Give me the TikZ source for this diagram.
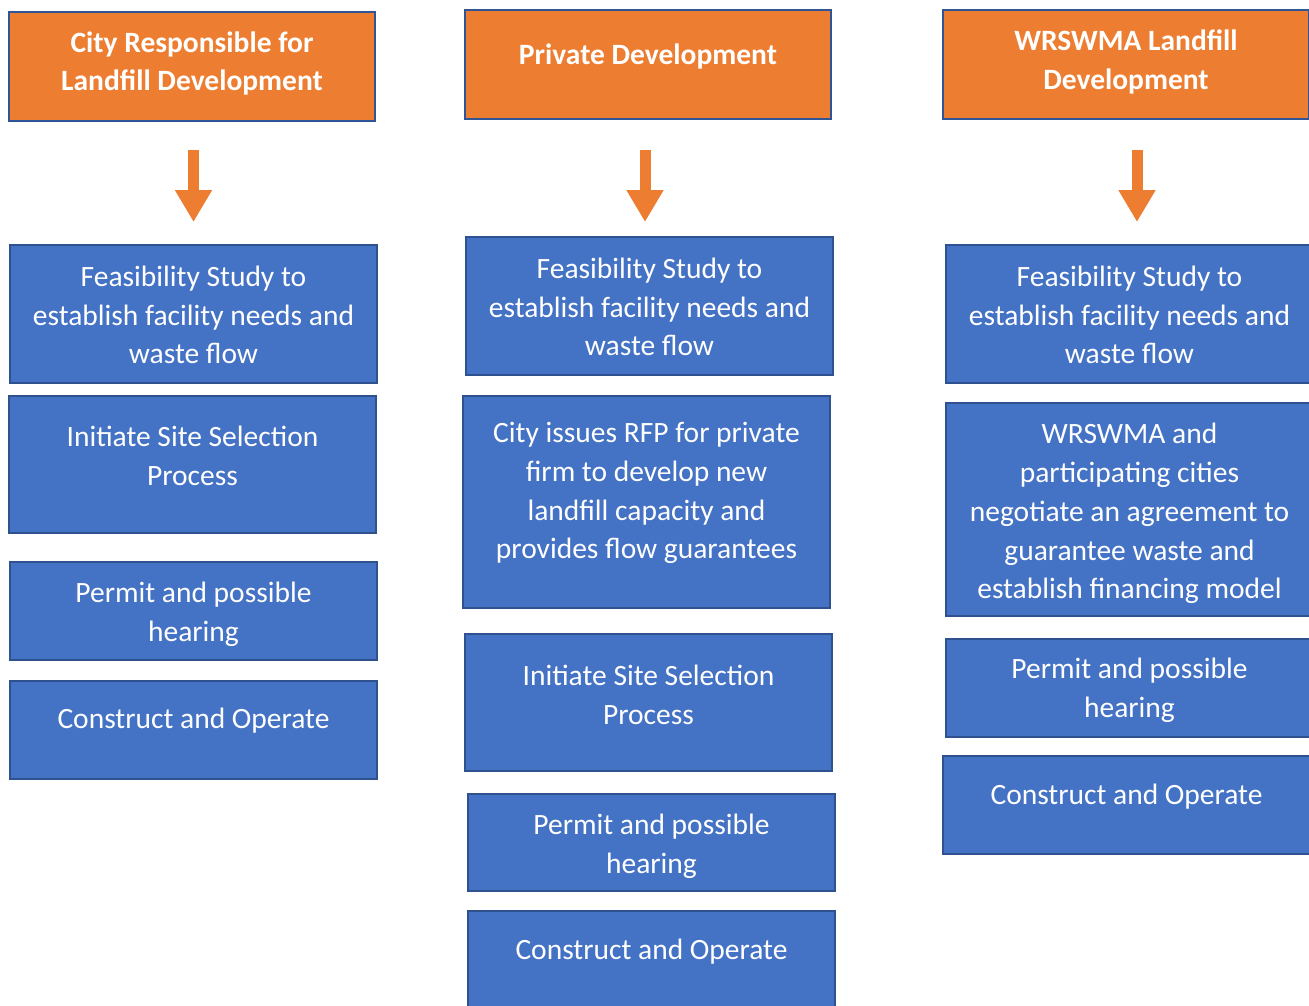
\documentclass[tikz,border=0pt]{standalone}
\usepackage{fontspec}
\setmainfont{Carlito}
\usetikzlibrary{arrows.meta,calc}
\definecolor{hdrfill}{HTML}{ED7D31}
\definecolor{hdrline}{HTML}{2F5597}
\definecolor{stepfill}{HTML}{4472C4}
\definecolor{stepline}{HTML}{2F528F}
\tikzset{
  panel/.style={draw=stepline, fill=stepfill, line width=2.5pt, minimum width=367pt,
    anchor=north west, inner sep=0pt, outer sep=0pt},
  header/.style={panel, draw=hdrline, fill=hdrfill, minimum width=366pt, minimum height=109pt},
  steptext/.style={text=white, align=center, inner sep=0pt,
    font=\fontsize{29.5}{38.8}\selectfont},
  headtext/.style={steptext, font=\fontsize{29.5}{38.8}\selectfont\bfseries},
  flow/.style={draw=hdrfill, line width=11pt, -{Triangle[width=35pt,length=32pt]}},
}
\begin{document}
\begin{tikzpicture}[x=1pt, y=-1pt]
\useasboundingbox (0,0) rectangle (1309,1005);
\clip (0,0) rectangle (1309,1005);

% ---- left column: city responsible
\node[header] (lh) at (9,12) {};
\node[headtext] (lht) at (lh.center |- 0,63.5) {City Responsible for\\Landfill Development};
\coordinate (la0) at (193.5,150);
\coordinate (la1) at (193.5,222);
\draw[flow] (la0) -- (la1);
\node[panel, minimum height=138pt] (l1) at (10,245) {};
\node[steptext] (l1t) at (l1.center |- 0,315) {Feasibility Study to\\establish facility needs and\\waste flow};
\node[panel, minimum height=137pt] (l2) at (9,396) {};
\node[steptext] (l2t) at (l2.center |- 0,455.5) {Initiate Site Selection\\Process};
\node[panel, minimum height=98pt] (l3) at (10,562) {};
\node[steptext] (l3t) at (l3.center |- 0,614) {Permit and possible\\hearing};
\node[panel, minimum height=98pt] (l4) at (10,681) {};
\node[steptext] (l4t) at (l4.center |- 0,721) {Construct and Operate};

% ---- middle column: private development
\node[header] (mh) at (465,10) {};
\node[headtext] (mht) at (mh.center |- 0,56) {Private Development};
\coordinate (ma0) at (645,150);
\coordinate (ma1) at (645,222);
\draw[flow] (ma0) -- (ma1);
\node[panel, minimum height=138pt] (m1) at (466,237) {};
\node[steptext] (m1t) at (m1.center |- 0,307) {Feasibility Study to\\establish facility needs and\\waste flow};
\node[panel, minimum height=212pt] (m2) at (463,396) {};
\node[steptext] (m2t) at (m2.center |- 0,493) {City issues RFP for private\\firm to develop new\\landfill capacity and\\provides flow guarantees};
\node[panel, minimum height=137pt] (m3) at (465,634) {};
\node[steptext] (m3t) at (m3.center |- 0,694.5) {Initiate Site Selection\\Process};
\node[panel, minimum height=97pt] (m4) at (468,794) {};
\node[steptext] (m4t) at (m4.center |- 0,846) {Permit and possible\\hearing};
\node[panel, minimum height=98pt] (m5) at (468,911) {};
\node[steptext] (m5t) at (m5.center |- 0,952) {Construct and Operate};

% ---- right column: WRSWMA
\node[header] (rh) at (943,10) {};
\node[headtext] (rht) at (rh.center |- 0,62) {WRSWMA Landfill\\Development};
\coordinate (ra0) at (1137,150);
\coordinate (ra1) at (1137,222);
\draw[flow] (ra0) -- (ra1);
\node[panel, minimum height=138pt] (r1) at (946,245) {};
\node[steptext] (r1t) at (r1.center |- 0,315) {Feasibility Study to\\establish facility needs and\\waste flow};
\node[panel, minimum height=213pt] (r2) at (946,403) {};
\node[steptext] (r2t) at (r2.center |- 0,513.5) {WRSWMA and\\participating cities\\negotiate an agreement to\\guarantee waste and\\establish financing model};
\node[panel, minimum height=98pt] (r3) at (946,639) {};
\node[steptext] (r3t) at (r3.center |- 0,690.5) {Permit and possible\\hearing};
\node[panel, minimum height=98pt] (r4) at (943,756) {};
\node[steptext] (r4t) at (r4.center |- 0,797) {Construct and Operate};
\end{tikzpicture}
\end{document}
